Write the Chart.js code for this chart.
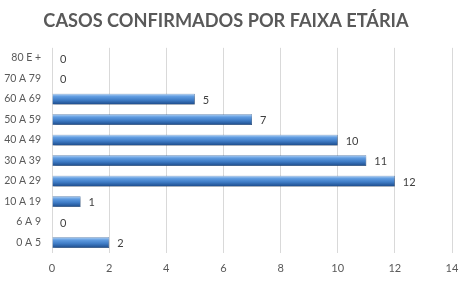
<!DOCTYPE html>
<html>
<head>
<meta charset="utf-8">
<script src="https://cdn.jsdelivr.net/npm/chart.js@4"></script>
<style>
  html, body { margin: 0; padding: 0; background: #fff; }
  #wrap { width: 472px; height: 286px; position: relative; }
</style>
</head>
<body>
<div id="wrap"><canvas id="c" width="472" height="286"></canvas></div>
<script>
const faixas = ['80 E +', '70 A 79', '60 A 69', '50 A 59', '40 A 49', '30 A 39', '20 A 29', '10 A 19', '6 A 9', '0 A 5']
const casos = [0, 0, 5, 7, 10, 11, 12, 1, 0, 2]
const xTicks = [0, 2, 4, 6, 8, 10, 12, 14]

// gradient per bar, like the excel cylinder look
const barFill = (context) => {
  const chart = context.chart
  const yScale = chart.scales && chart.scales.y
  if (!yScale || context.dataIndex === undefined) return '#4a86cc'
  const yc = yScale.getPixelForValue(context.dataIndex)
  if (!isFinite(yc)) return '#4a86cc'
  const h = 5
  const g = chart.ctx.createLinearGradient(0, yc - h, 0, yc + h)
  g.addColorStop(0, '#a9ccf2')
  g.addColorStop(0.25, '#5f9be0')
  g.addColorStop(0.6, '#3f7cc6')
  g.addColorStop(1, '#1f4f8f')
  return g
}

const shadowPlugin = {
  id: 'shadow',
  beforeDatasetsDraw(chart) {
    const ctx = chart.ctx
    ctx.save()
    ctx.shadowColor = 'rgba(0,0,0,0.35)'
    ctx.shadowOffsetX = 1
    ctx.shadowOffsetY = 2
    ctx.shadowBlur = 3
  },
  afterDatasetsDraw(chart) {
    chart.ctx.restore()
  }
}

const valueLabels = {
  id: 'valueLabels',
  afterDraw(chart) {
    const ctx = chart.ctx
    const meta = chart.getDatasetMeta(0)
    ctx.save()
    ctx.font = '11px Lato'
    ctx.fillStyle = '#404040'
    ctx.textAlign = 'left'
    ctx.textBaseline = 'middle'
    meta.data.forEach((bar, i) => {
      ctx.fillText(String(casos[i]), bar.x + 8, bar.y + 1)
    })
    ctx.restore()
  }
}

new Chart(document.getElementById('c'), {
  type: 'bar',
  data: {
    labels: faixas,
    datasets: [
      {
        data: casos,
        backgroundColor: barFill,
        borderColor: '#1d4a85',
        borderWidth: 0.5,
        barPercentage: 0.52,
        categoryPercentage: 1
      }
    ]
  },
  options: {
    indexAxis: 'y',
    responsive: false,
    animation: false,
    layout: { padding: { left: 0, right: 20, top: 0, bottom: 2 } },
    plugins: {
      legend: { display: false },
      tooltip: { enabled: false },
      title: {
        display: true,
        text: 'CASOS CONFIRMADOS POR FAIXA ETÁRIA',
        color: '#595959',
        font: { family: 'Lato', size: 18.2, weight: 'bold' },
        padding: { top: 10, bottom: 16 }
      }
    },
    scales: {
      x: {
        min: 0,
        max: 14,
        afterBuildTicks: (axis) => { axis.ticks = xTicks.map(v => ({ value: v })) },
        grid: { color: '#d9d9d9', drawTicks: false },
        border: { display: false },
        ticks: { color: '#595959', font: { family: 'Lato', size: 11 }, padding: 9 }
      },
      y: {
        grid: { display: false, drawTicks: false },
        border: { display: false },
        afterFit: (axis) => { axis.width = 52 },
        ticks: { color: '#595959', font: { family: 'Lato', size: 10.5 }, padding: 11 }
      }
    }
  },
  plugins: [shadowPlugin, valueLabels]
})
</script>
</body>
</html>
